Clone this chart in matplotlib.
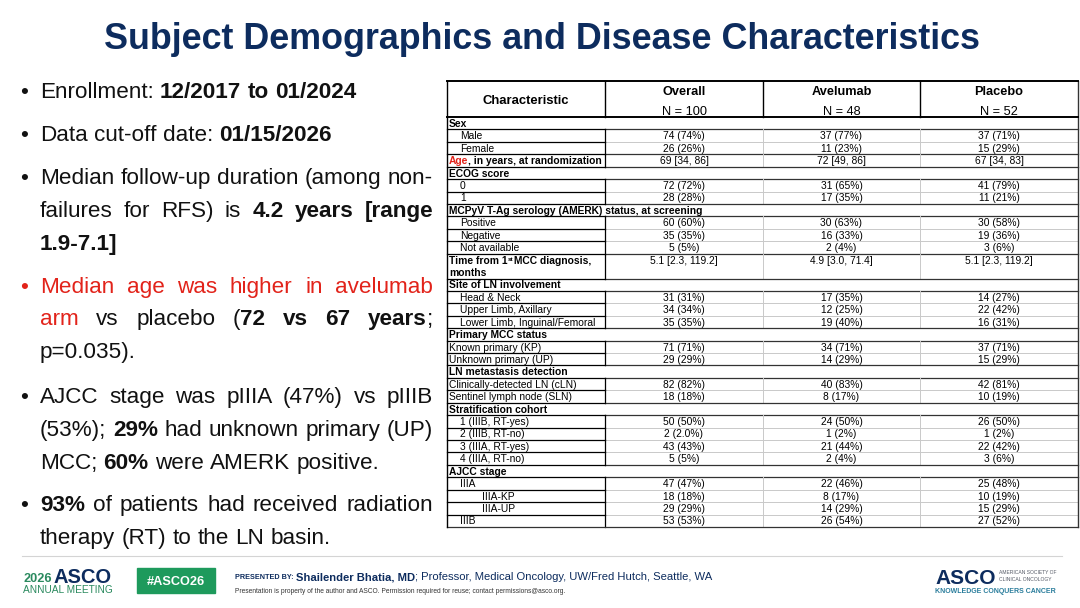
import matplotlib
matplotlib.use('Agg')
import matplotlib.pyplot as plt

plt.rcParams['font.family'] = ['Liberation Sans', 'DejaVu Sans']

NAVY = '#0d2c5e'
RED = '#e2231a'
GREEN = '#1e9a5c'
TEAL = '#2a7d9c'

title = 'Subject Demographics and Disease Characteristics'

# bullet paragraphs: each line is a list of (text, style); n = normal, b = bold, r = red
bullets = [
    [[('Enrollment: ', 'n'), ('12/2017 to 01/2024', 'b')]],
    [[('Data cut-off date: ', 'n'), ('01/15/2026', 'b')]],
    [[('Median follow-up duration (among non-', 'n')],
     [('failures for RFS) is ', 'n'), ('4.2 years [range', 'b')],
     [('1.9-7.1]', 'b')]],
    [[('Median age was higher in avelumab', 'r')],
     [('arm', 'r'), (' vs placebo (', 'n'), ('72 vs 67 years', 'b'), (';', 'n')],
     [('p=0.035).', 'n')]],
    [[('AJCC stage was pIIIA (47%) vs pIIIB', 'n')],
     [('(53%); ', 'n'), ('29%', 'b'), (' had unknown primary (UP)', 'n')],
     [('MCC; ', 'n'), ('60%', 'b'), (' were AMERK positive.', 'n')]],
    [[('93%', 'b'), (' of patients had received radiation', 'n')],
     [('therapy (RT) to the LN basin.', 'n')]],
]
bullet_y = [[89.5], [132.5], [176, 208.8, 241.6], [284.5, 317.3, 350],
            [395, 428, 461], [503, 536]]

# table
col_names = ['Overall', 'Avelumab', 'Placebo']
col_ns = ['N = 100', 'N = 48', 'N = 52']
row_labels = ['Sex', 'Male', 'Female', 'Age', 'ECOG score', '0', '1',
              'MCPyV T-Ag serology (AMERK) status, at screening',
              'Positive', 'Negative', 'Not available', 'Time',
              'Site of LN involvement', 'Head & Neck', 'Upper Limb, Axillary',
              'Lower Limb, Inguinal/Femoral', 'Primary MCC status',
              'Known primary (KP)', 'Unknown primary (UP)',
              'LN metastasis detection', 'Clinically-detected LN (cLN)',
              'Sentinel lymph node (SLN)', 'Stratification cohort',
              '1 (IIIB, RT-yes)', '2 (IIIB, RT-no)', '3 (IIIA, RT-yes)',
              '4 (IIIA, RT-no)', 'AJCC stage', 'IIIA', 'IIIA-KP', 'IIIA-UP', 'IIIB']
# sec = section header, sub = indented, sub2 = double indent, top = not indented
row_kinds = ['sec', 'sub', 'sub', 'age', 'sec', 'sub', 'sub', 'sec',
             'sub', 'sub', 'sub', 'time', 'sec', 'sub', 'sub', 'sub', 'sec',
             'top', 'top', 'sec', 'top', 'top', 'sec', 'sub', 'sub', 'sub',
             'sub', 'sec', 'sub', 'sub2', 'sub2', 'sub']
overall = ['', '74 (74%)', '26 (26%)', '69 [34, 86]', '', '72 (72%)', '28 (28%)', '',
           '60 (60%)', '35 (35%)', '5 (5%)', '5.1 [2.3, 119.2]', '', '31 (31%)',
           '34 (34%)', '35 (35%)', '', '71 (71%)', '29 (29%)', '', '82 (82%)',
           '18 (18%)', '', '50 (50%)', '2 (2.0%)', '43 (43%)', '5 (5%)', '',
           '47 (47%)', '18 (18%)', '29 (29%)', '53 (53%)']
avelumab = ['', '37 (77%)', '11 (23%)', '72 [49, 86]', '', '31 (65%)', '17 (35%)', '',
            '30 (63%)', '16 (33%)', '2 (4%)', '4.9 [3.0, 71.4]', '', '17 (35%)',
            '12 (25%)', '19 (40%)', '', '34 (71%)', '14 (29%)', '', '40 (83%)',
            '8 (17%)', '', '24 (50%)', '1 (2%)', '21 (44%)', '2 (4%)', '',
            '22 (46%)', '8 (17%)', '14 (29%)', '26 (54%)']
placebo = ['', '37 (71%)', '15 (29%)', '67 [34, 83]', '', '41 (79%)', '11 (21%)', '',
           '30 (58%)', '19 (36%)', '3 (6%)', '5.1 [2.3, 119.2]', '', '14 (27%)',
           '22 (42%)', '16 (31%)', '', '37 (71%)', '15 (29%)', '', '42 (81%)',
           '10 (19%)', '', '26 (50%)', '1 (2%)', '22 (42%)', '3 (6%)', '',
           '25 (48%)', '10 (19%)', '15 (29%)', '27 (52%)']

fig = plt.figure(figsize=(10.8, 6.08), dpi=100)
ax = fig.add_axes([0, 0, 1, 1])
ax.set_xlim(0, 1080)
ax.set_ylim(608, 0)
ax.axis('off')
renderer = fig.canvas.get_renderer()


def base(y, size):
    # y is the middle of the capitals; return baseline
    return y + 0.358 * size * 100 / 72


def put(x, y, s, size, weight='normal', color='black', ha='left', **kw):
    return ax.text(x, base(y, size), s, fontsize=size, fontweight=weight,
                   color=color, ha=ha, va='baseline', **kw)


def width(t):
    return t.get_window_extent(renderer).width


# title
put(542, 36, title, 25.8, 'bold', NAVY, ha='center')

# bullets, justified
FS = 16.2
X0, X1 = 40, 433
style_map = {'n': ('normal', '#111111'), 'b': ('bold', '#111111'), 'r': ('normal', RED)}
probe_a = ax.text(0, 0, 'x x', fontsize=FS)
probe_b = ax.text(0, 0, 'xx', fontsize=FS)
space_w = width(probe_a) - width(probe_b)
probe_a.remove()
probe_b.remove()

for para, ys in zip(bullets, bullet_y):
    first_style = para[0][0][1]
    put(24, ys[0], '\u2022', FS, color=RED if first_style == 'r' else '#111111', ha='center')
    for li, (line, y) in enumerate(zip(para, ys)):
        words = [[]]
        for txt, st in line:
            parts = txt.split(' ')
            for i, p in enumerate(parts):
                if i > 0:
                    words.append([])
                if p:
                    words[-1].append((p, st))
        words = [w for w in words if w]
        objs = []
        total = 0
        for w in words:
            wl = []
            for p, st in w:
                fw, c = style_map[st]
                t = put(0, y, p, FS, fw, c)
                wl.append(t)
                total += width(t)
            objs.append(wl)
        last = li == len(para) - 1
        if last or len(words) < 2:
            gap = space_w
        else:
            gap = (X1 - X0 - total) / (len(words) - 1)
        x = X0
        for wl in objs:
            for t in wl:
                t.set_x(x)
                x += width(t)
            x += gap

# table geometry
TL, TR = 447, 1078
cx = [447, 605, 763, 920, 1078]
HT, HB = 81, 117
RH = (527 - HB) / 33
TFS = 7.4
LIGHT = '#c9c9c9'
DARK = '#333333'

units = [2 if k == 'time' else 1 for k in row_kinds]
tops = []
y = HB
for u in units:
    tops.append(y)
    y += u * RH
TB = y

# header
put((cx[0] + cx[1]) / 2, 99, 'Characteristic', 9.4, 'bold', ha='center')
for i in range(3):
    mid = (cx[i + 1] + cx[i + 2]) / 2
    put(mid, 90, col_names[i], 9.2, 'bold', ha='center')
    put(mid, 110, col_ns[i], 9.2, ha='center')

indent = {'sec': 449, 'top': 449, 'age': 449, 'time': 449, 'sub': 460, 'sub2': 482}
for i, (lab, kind) in enumerate(zip(row_labels, row_kinds)):
    yc = tops[i] + RH / 2
    xl = indent[kind]
    if kind == 'sec':
        put(xl, yc, lab, TFS, 'bold')
        continue
    if kind == 'age':
        t = put(xl, yc, lab, TFS, 'bold', RED)
        put(xl + width(t), yc, ', in years, at randomization', TFS, 'bold')
    elif kind == 'time':
        t = put(xl, yc, 'Time from 1', TFS, 'bold')
        x2 = xl + width(t)
        t2 = ax.text(x2, base(yc, TFS) - 3, 'st', fontsize=TFS * 0.6, fontweight='bold',
                     va='baseline')
        put(x2 + width(t2) + 1, yc, 'MCC diagnosis,', TFS, 'bold')
        put(xl, yc + RH, 'months', TFS, 'bold')
    else:
        put(xl, yc, lab, TFS)
    for j, vals in enumerate([overall, avelumab, placebo]):
        put((cx[j + 1] + cx[j + 2]) / 2, yc, vals[i], TFS, ha='center')

# grid lines
for i, kind in enumerate(row_kinds):
    yt = tops[i]
    prev = row_kinds[i - 1] if i > 0 else 'sec'
    strong = kind in ('sec', 'age', 'time') or prev in ('sec', 'age', 'time')
    if i > 0:
        ax.plot([cx[1], TR], [yt, yt], color=DARK if strong else LIGHT,
                lw=0.9 if strong else 0.7)
        ax.plot([TL, cx[1]], [yt, yt], color='black', lw=0.9)
    yb = tops[i] + units[i] * RH
    if kind != 'sec':
        ax.plot([cx[1], cx[1]], [yt, yb], color='black', lw=0.9)
        for xv in cx[2:4]:
            ax.plot([xv, xv], [yt, yb], color=LIGHT, lw=0.7)

ax.plot([TL, TR], [TB, TB], color=DARK, lw=0.9)
ax.plot([TL, TL], [HT, TB], color='black', lw=1.0)
ax.plot([TR, TR], [HT, TB], color=DARK, lw=1.0)
ax.plot([TL, TR], [HT, HT], color='black', lw=1.4)
ax.plot([TL, TR], [HB, HB], color='black', lw=1.4)
for xv in cx[1:4]:
    ax.plot([xv, xv], [HT, HB], color='black', lw=1.0)

# footer
ax.plot([22, 1062], [556, 556], color='#d4d4d4', lw=0.8)
t = put(23, 577.5, '2026', 9.2, 'bold', '#2b8a5f')
put(23 + width(t) + 2, 575.5, 'ASCO', 14.5, 'bold', NAVY)
put(23, 589.5, 'ANNUAL MEETING', 7.3, color='#2b8a5f')
ax.add_patch(plt.Rectangle((137, 568), 78, 25, color=GREEN))
put(176, 580.5, '#ASCO26', 9.2, 'bold', 'white', ha='center')
put(235, 576, 'PRESENTED BY:', 5.2, 'bold', NAVY)
t = put(296, 576, 'Shailender Bhatia, MD', 8.1, 'bold', NAVY)
put(296 + width(t), 576, '; Professor, Medical Oncology, UW/Fred Hutch, Seattle, WA',
    8.1, color=NAVY)
put(235, 591, 'Presentation is property of the author and ASCO. Permission required '
    'for reuse; contact permissions@asco.org.', 4.8, color='#333333')
put(935, 577, 'ASCO', 15, 'bold', NAVY)
put(999, 572.5, 'AMERICAN SOCIETY OF', 3.6, color='#555a66')
put(999, 579.5, 'CLINICAL ONCOLOGY', 3.6, color='#555a66')
put(935, 590.5, 'KNOWLEDGE CONQUERS CANCER', 5.0, 'bold', TEAL)

fig.savefig('out.png', dpi=100)
